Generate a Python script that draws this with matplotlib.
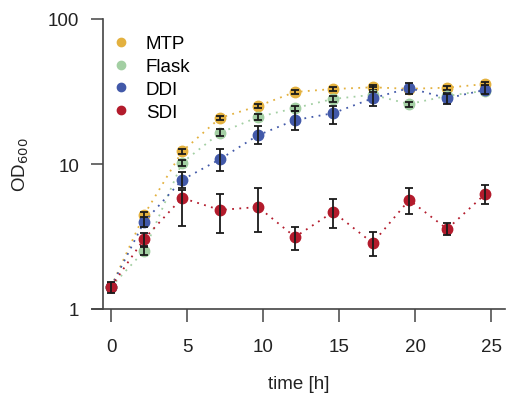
import numpy as np
import matplotlib
matplotlib.use("Agg")
import matplotlib.pyplot as plt
from matplotlib.lines import Line2D

plt.rcParams['font.family'] = ['Liberation Sans', 'DejaVu Sans']

######### data
time_h = [0, 2.17, 4.67, 7.17, 9.67, 12.1, 14.6, 17.2, 19.6, 22.1, 24.6]

od_mtp = [1.42, 4.45, 12.2, 20.8, 25.1, 31.4, 32.9, 33.8, 33.0, 33.6, 35.6]
err_mtp = [0.08, 0.25, 0.5, 0.8, 0.8, 1.0, 1.0, 1.2, 1.2, 1.0, 1.2]

od_flask = [1.42, 2.51, 10.2, 16.4, 21.1, 24.3, 28.1, 30.0, 25.9, 29.5, 32.0]
err_flask = [0.08, 0.15, 0.5, 0.9, 0.9, 1.0, 1.2, 1.2, 1.0, 1.2, 1.2]

od_ddi = [1.42, 3.98, 7.76, 10.8, 15.8, 20.1, 22.4, 28.4, 33.4, 28.4, 32.5]
err_ddi_lo = [0.08, 0.3, 0.9, 1.9, 2.1, 2.9, 3.6, 3.4, 2.9, 2.4, 2.0]
err_ddi_hi = [0.08, 0.3, 1.0, 1.9, 2.5, 3.1, 2.6, 5.6, 2.6, 2.1, 2.5]

od_sdi = [1.42, 3.04, 5.83, 4.82, 5.05, 3.14, 4.67, 2.85, 5.65, 3.56, 6.21]
err_sdi_lo = [0.13, 0.3, 2.09, 1.48, 1.65, 0.59, 1.05, 0.53, 1.13, 0.32, 0.91]
err_sdi_hi = [0.11, 0.3, 0.77, 1.39, 1.78, 0.54, 1.07, 0.55, 1.18, 0.36, 0.95]

series = [
    ("MTP", od_mtp, [err_mtp, err_mtp], "#E3B13F"),
    ("Flask", od_flask, [err_flask, err_flask], "#A3CFA3"),
    ("DDI", od_ddi, [err_ddi_lo, err_ddi_hi], "#4259A9"),
    ("SDI", od_sdi, [err_sdi_lo, err_sdi_hi], "#B31B2C"),
]

fs = 13.5

fig = plt.figure(figsize=(5.07, 4.02), dpi=100)
ax = fig.add_axes([92/507, 92/402, 413/507, 290/402])

handles = []
for i, (name, od, err, col) in enumerate(series):
    ax.plot(time_h, od, linestyle=(0, (1, 3)), color=col, linewidth=1.3, zorder=2 + i)
    ax.plot(time_h, od, linestyle='none', marker='o', markersize=7.5,
            markerfacecolor=col, markeredgecolor=col, zorder=2 + i)
    ax.errorbar(time_h, od, yerr=err, fmt='none', ecolor='#1a1a1a',
                elinewidth=1.3, capsize=3, capthick=1.3, zorder=2.5 + i)
    handles.append(Line2D([], [], linestyle='none', marker='o', markersize=6,
                          markerfacecolor=col, markeredgecolor=col, label=name))

ax.set_yscale('log')
ax.set_ylim(1, 100)
ax.set_xlim(-1.25, 25.9)
ax.set_yticks([1, 10, 100])
ax.set_yticklabels(['1', '10', '100'])
ax.minorticks_off()
ax.set_xticks([0, 5, 10, 15, 20, 25])

ax.spines['top'].set_visible(False)
ax.spines['right'].set_visible(False)
ax.spines['left'].set_position(('data', -0.53))
for s in ['left', 'bottom']:
    ax.spines[s].set_color('#444444')
    ax.spines[s].set_linewidth(1.2)

ax.tick_params(axis='both', direction='out', length=9, width=1.1, color='#444444',
               labelsize=fs, labelcolor='#222222')
ax.tick_params(axis='x', pad=12)
ax.tick_params(axis='y', pad=8)

ax.set_xlabel('time [h]', fontsize=fs, color='#222222', labelpad=14)
ax.set_ylabel('OD$_{600}$', fontsize=fs, color='#222222', labelpad=12)

ax.legend(handles=handles, loc='upper left', bbox_to_anchor=(0.03, 0.97), frameon=False,
          fontsize=fs, handlelength=1.0, handletextpad=0.8, labelspacing=0.3,
          borderaxespad=0)

fig.savefig('out.png', dpi=100)
